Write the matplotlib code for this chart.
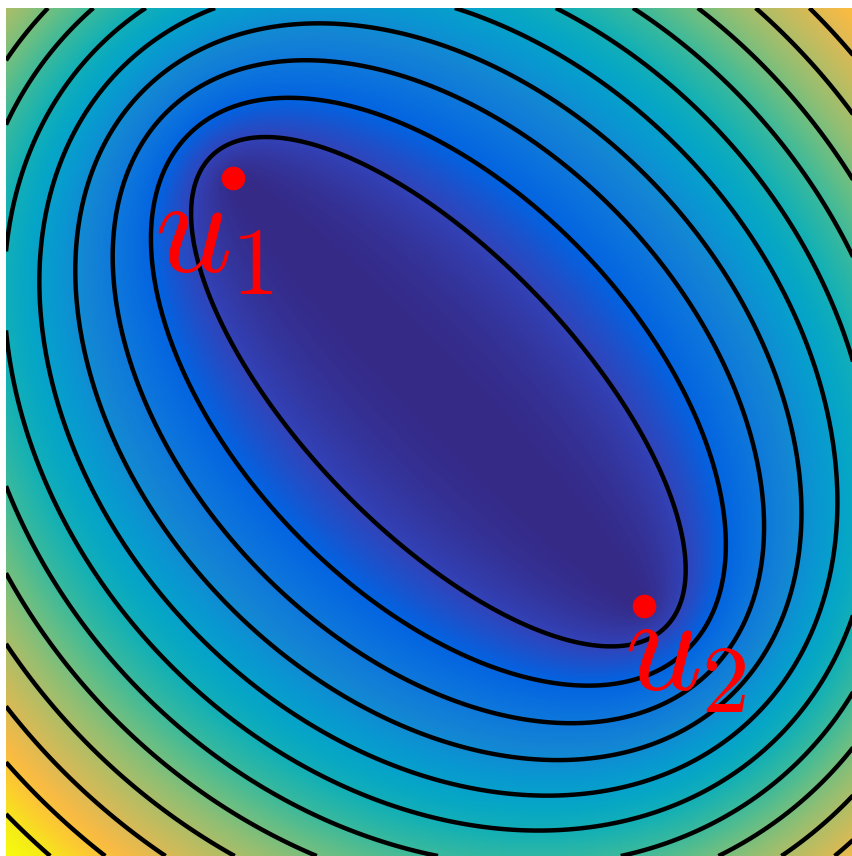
import numpy as np
import matplotlib
matplotlib.use("Agg")
import matplotlib.pyplot as plt
from matplotlib.colors import LinearSegmentedColormap

# two marked points (axes run 0..1 in both directions)
u1 = [0.268, 0.800]
u2 = [0.753, 0.295]
point_labels = [r"$u_1$", r"$u_2$"]
label_pos = [[0.175, 0.689], [0.730, 0.196]]

# contour levels of d(x,u1) + d(x,u2)
levels = [0.772, 0.846, 0.920, 0.995, 1.069, 1.143, 1.218,
          1.292, 1.366, 1.441, 1.515, 1.589, 1.664]

# parula (approximate), sampled every 4th entry of the 64-colour map
parula_rgb = [
    (0.2081, 0.1663, 0.5292), (0.1959, 0.2645, 0.7279), (0.0117, 0.3875, 0.8820),
    (0.0498, 0.4586, 0.8641), (0.0793, 0.5200, 0.8312), (0.0343, 0.5966, 0.8199),
    (0.0228, 0.6535, 0.7768), (0.0843, 0.6928, 0.7062), (0.2178, 0.7250, 0.6193),
    (0.3953, 0.7459, 0.5244), (0.5709, 0.7485, 0.4494), (0.7184, 0.7411, 0.3905),
    (0.8507, 0.7299, 0.3360), (0.9739, 0.7314, 0.2666), (0.9880, 0.8066, 0.1794),
    (0.9599, 0.9218, 0.0948), (0.9763, 0.9831, 0.0538)]
parula = LinearSegmentedColormap.from_list("parula", parula_rgb)

plt.rcParams['mathtext.fontset'] = 'cm'

x = np.linspace(0, 1, 500)
y = np.linspace(0, 1, 500)
X, Y = np.meshgrid(x, y)
D = np.hypot(X - u1[0], Y - u1[1]) + np.hypot(X - u2[0], Y - u2[1])

fig = plt.figure(figsize=(8.53, 8.56), dpi=100)
ax = fig.add_axes([6 / 853, 0, 847 / 853, 848 / 856])
ax.imshow(D ** 1.4, extent=[0, 1, 0, 1], origin='lower', cmap=parula,
          interpolation='bilinear', aspect='auto')
ax.contour(X, Y, D, levels=levels, colors='black', linewidths=3.2)

for p, lab, pos in zip([u1, u2], point_labels, label_pos):
    ax.plot(p[0], p[1], 'o', color='red', markersize=16)
    ax.text(pos[0], pos[1], lab, color='red', fontsize=98,
            ha='left', va='baseline')

ax.set_xlim(0, 1)
ax.set_ylim(0, 1)
ax.axis('off')

plt.savefig("out.png", dpi=100)
